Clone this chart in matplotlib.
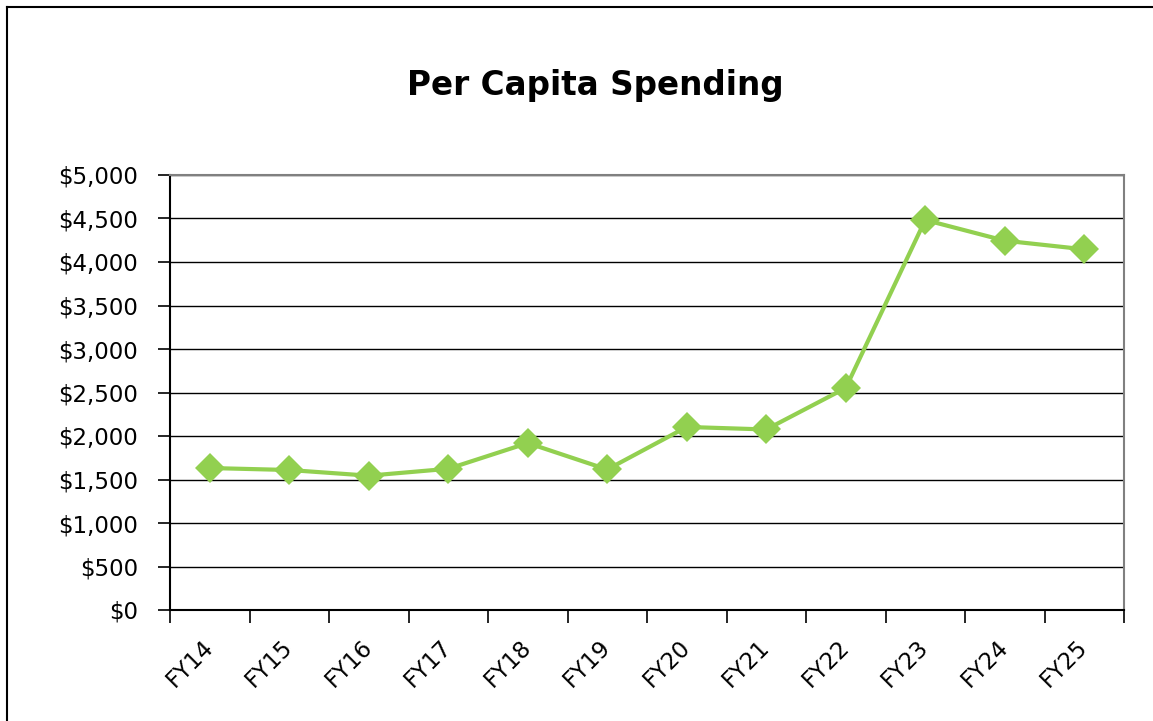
import matplotlib
matplotlib.use("Agg")
import matplotlib.pyplot as plt
from matplotlib.lines import Line2D
import numpy as np

categories = ["FY14", "FY15", "FY16", "FY17", "FY18", "FY19",
              "FY20", "FY21", "FY22", "FY23", "FY24", "FY25"]
spending = [1632, 1609, 1544, 1623, 1919, 1615, 2104, 2075, 2552, 4483, 4245, 4146]
yticks = [0, 500, 1000, 1500, 2000, 2500, 3000, 3500, 4000, 4500, 5000]
ytick_labels = ["$0", "$500", "$1,000", "$1,500", "$2,000", "$2,500",
                "$3,000", "$3,500", "$4,000", "$4,500", "$5,000"]

W, H = 1153, 721
fig = plt.figure(figsize=(W / 100, H / 100), dpi=100)
ax = fig.add_axes([170 / W, 1 - 610 / H, (1124 - 170) / W, (610 - 175) / H])

x = np.arange(len(categories))
ax.plot(x, spending, color="#92D050", lw=3, marker="D", markersize=15,
        markeredgewidth=0, zorder=3, solid_joinstyle="round")

ax.set_ylim(0, 5000)
ax.set_xlim(-0.5, len(categories) - 0.5)
ax.set_yticks(yticks)
ax.set_yticklabels(ytick_labels, fontsize=16.5)
ax.set_xticks(x)
ax.set_xticklabels(categories, fontsize=16.5)
for lbl in ax.get_xticklabels():
    lbl.set_rotation(45)
    lbl.set_rotation_mode("anchor")
    lbl.set_ha("right")
    lbl.set_va("center")
ax.tick_params(axis="x", which="major", length=0, pad=24)
ax.set_xticks(np.arange(-0.5, len(categories), 1.0), minor=True)
ax.tick_params(axis="x", which="minor", length=9, width=1.2, color="black")
ax.tick_params(axis="y", length=9, width=1.2, color="black", pad=14)

ax.yaxis.grid(True, color="black", lw=1)
ax.set_axisbelow(True)
for s in ["left", "bottom"]:
    ax.spines[s].set_color("black")
    ax.spines[s].set_linewidth(1.5)
for s in ["top", "right"]:
    ax.spines[s].set_color("#808080")
    ax.spines[s].set_linewidth(1.5)

fig.text(595 / W, 1 - 86 / H, "Per Capita Spending", fontsize=23.5,
         fontweight="bold", ha="center", va="center")

# outer chart frame (left and top)
fig.add_artist(Line2D([7 / W, 7 / W], [0, 1 - 7 / H], color="black", lw=1.5,
                      transform=fig.transFigure))
fig.add_artist(Line2D([7 / W, 1], [1 - 7 / H, 1 - 7 / H], color="black", lw=1.5,
                      transform=fig.transFigure))

fig.savefig("out.png", dpi=100)
